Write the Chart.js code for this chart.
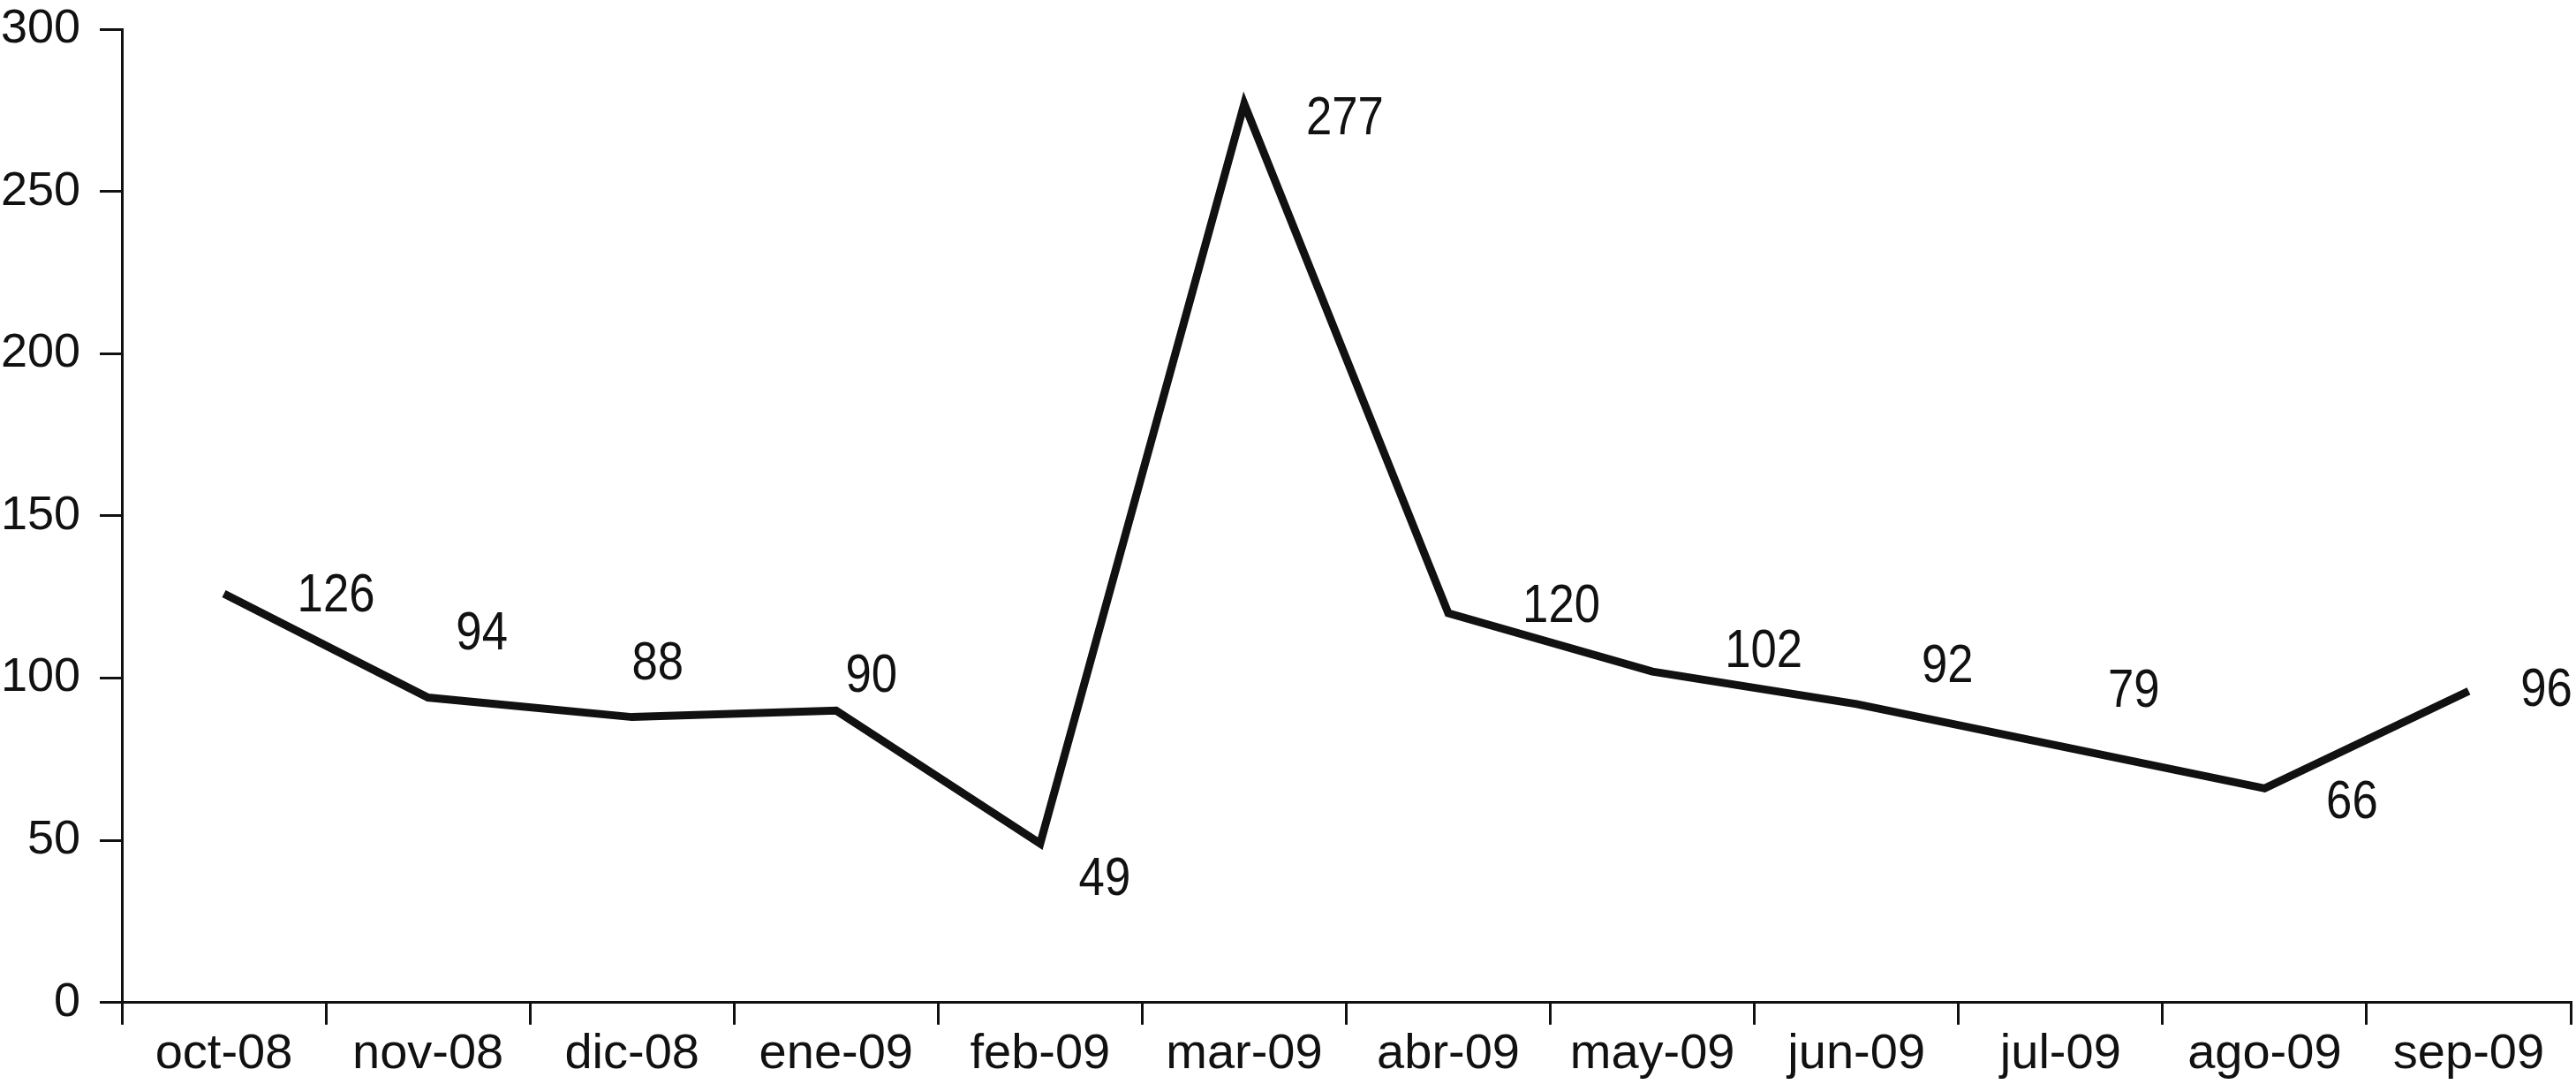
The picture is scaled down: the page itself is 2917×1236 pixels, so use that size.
<!DOCTYPE html>
<html>
<head>
<meta charset="utf-8">
<script src="https://cdn.jsdelivr.net/npm/chart.js@4.4.0/dist/chart.umd.min.js"></script>
<style>
  body { margin: 0; background: #fff; }
  canvas { display: block; }
</style>
</head>
<body>
<canvas id="visitsChart" width="2917" height="1236"></canvas>
<script>
// Monthly values
const months = ["oct-08", "nov-08", "dic-08", "ene-09", "feb-09", "mar-09",
                "abr-09", "may-09", "jun-09", "jul-09", "ago-09", "sep-09"];
const counts = [126, 94, 88, 90, 49, 277, 120, 102, 92, 79, 66, 96];
const yTicks = [0, 50, 100, 150, 200, 250, 300];

// Where each value label sits relative to its point (px)
const labelShift = [
    [127, 3], [61, -72], [29, -60], [40, -38], [73, 41], [114, 17],
    [128, -7], [126, -22], [103, -42], [83, -62], [99, 17], [88, 0]
];

const FONT = '"Liberation Sans", Arial, sans-serif';

// Draw the value next to every point, a little condensed like the original
const valueLabels = {
    id: 'valueLabels',
    afterDatasetsDraw(chart) {
        const ctx = chart.ctx;
        const meta = chart.getDatasetMeta(0);
        ctx.save();
        ctx.fillStyle = '#111';
        ctx.font = '62px ' + FONT;
        ctx.textAlign = 'center';
        ctx.textBaseline = 'middle';
        meta.data.forEach((pt, i) => {
            const [dx, dy] = labelShift[i];
            ctx.save();
            ctx.translate(pt.x + dx, pt.y + dy);
            ctx.scale(0.85, 1);
            ctx.fillText(String(counts[i]), 0, 0);
            ctx.restore();
        });
        ctx.restore();
    }
};

const initChart = () => {
    const ctx = document.getElementById('visitsChart').getContext('2d');
    new Chart(ctx, {
        type: 'line',
        data: {
            labels: months,
            datasets: [{
                data: counts,
                borderColor: '#111',
                borderWidth: 9,
                pointRadius: 0,
                tension: 0,
                fill: false
            }]
        },
        options: {
            responsive: false,
            animation: false,
            layout: { padding: { top: 33, right: 6, bottom: 9, left: 0 } },
            plugins: {
                legend: { display: false },
                tooltip: { enabled: false }
            },
            scales: {
                x: {
                    offset: true,
                    grid: {
                        offset: true,
                        drawOnChartArea: false,
                        drawTicks: true,
                        tickLength: 25,
                        color: '#111',
                        lineWidth: 3
                    },
                    border: { display: true, color: '#111', width: 3 },
                    ticks: {
                        color: '#111',
                        padding: 0,
                        maxRotation: 0,
                        autoSkip: false,
                        font: { family: FONT, size: 56 }
                    }
                },
                y: {
                    min: 0,
                    max: 300,
                    afterBuildTicks: (axis) => {
                        axis.ticks = yTicks.map(v => ({ value: v }));
                    },
                    afterFit: (axis) => {
                        axis.width = 138;
                        axis.paddingTop = 0;
                        axis.paddingBottom = 0;
                    },
                    grid: {
                        drawOnChartArea: false,
                        drawTicks: true,
                        tickLength: 25,
                        color: '#111',
                        lineWidth: 3
                    },
                    border: { display: true, color: '#111', width: 3 },
                    ticks: {
                        color: '#111',
                        padding: 22,
                        font: { family: FONT, size: 54 }
                    }
                }
            }
        },
        plugins: [valueLabels]
    });
};

document.addEventListener('DOMContentLoaded', initChart);
</script>
</body>
</html>
